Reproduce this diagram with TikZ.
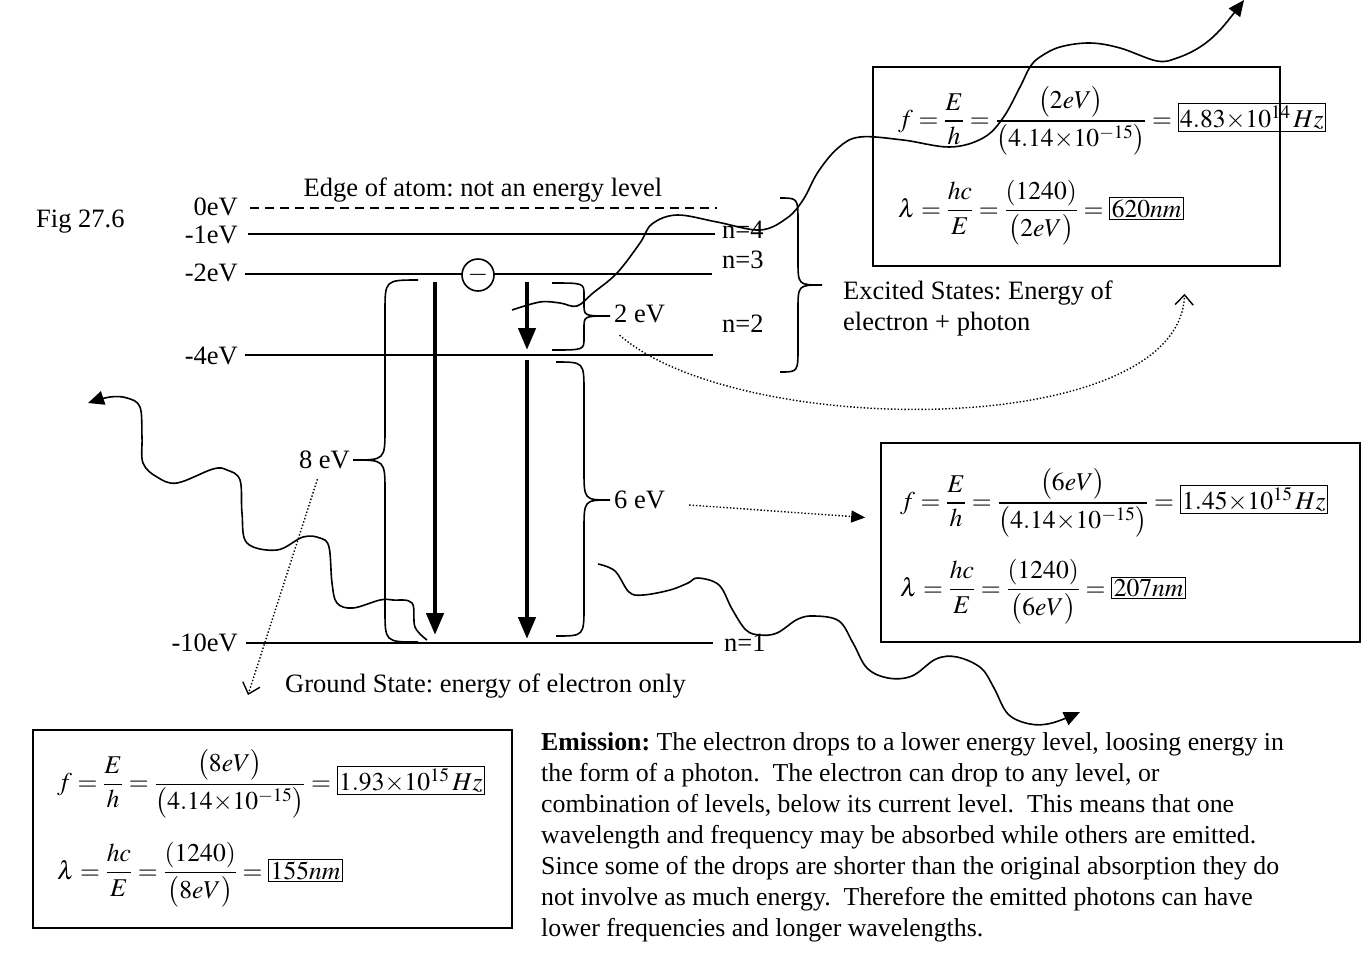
\documentclass[tikz,border=0pt]{standalone}
\usepackage{amsmath}
\usepackage{mathptmx}
\usepackage{fontspec}
\setmainfont{Liberation Serif}
\usetikzlibrary{arrows.meta}
% brace: ends x, spine x, tip x, top y, mid y, bottom y, corner height
\newcommand\levelbrace[7]{%
  \draw[level] (#1,#4) .. controls (#2,#4) .. (#2,#4+#7) -- (#2,#5-#7)
    .. controls (#2,#5) .. (#3,#5) .. controls (#2,#5) .. (#2,#5+#7)
    -- (#2,#6-#7) .. controls (#2,#6) .. (#1,#6);}
\newcommand\tms{\mathord{\times}}
\setlength\fboxsep{1.5pt}
\setlength\fboxrule{1pt}
\frenchspacing
\begin{document}
\begin{tikzpicture}[x=1pt,y=-1pt,
  font=\fontsize{26.5}{31}\selectfont,
  level/.style={line width=1.6pt},
  drop/.style={line width=4.5pt,-{Triangle[length=22pt,width=17pt]}},
  photon/.style={line width=1.6pt,-{Triangle[length=16pt,width=14pt]}},
  guide/.style={dotted,line width=1.4pt},
  lvl/.style={anchor=east,inner sep=0pt},
  qn/.style={anchor=west,inner sep=0pt},
  calcbox/.style={draw,line width=1.6pt,inner sep=0pt},
  calc/.style={anchor=west,inner sep=0pt,font=\fontsize{25.6}{30}\selectfont}]
\useasboundingbox (0,0) rectangle (1368,970);
%
\node[anchor=west,inner sep=0pt] (fig) at (36,222) {Fig 27.6};
\node[lvl] (e0) at (238,207) {0eV};
\node[lvl] (e1) at (238,235) {-1eV};
\node[lvl] (e2) at (238,273) {-2eV};
\node[lvl] (e4) at (238,356) {-4eV};
\node[lvl] (e10) at (238,643) {-10eV};
\draw[level,dash pattern=on 9pt off 6pt] (250,208) -- (717,208);
\draw[level] (248,234) -- (715,234);
\draw[level] (245,274) -- (712,274);
\draw[level] (245,355) -- (713,355);
\draw[level] (246,643) -- (713,643);
\node[inner sep=0pt] (edge) at (483,190) {Edge of atom: not an energy level};
\node[qn] (n4) at (722,230) {n=4};
\node[qn] (n3) at (722,260) {n=3};
\node[qn] (n2) at (722,324) {n=2};
\node[qn] (n1) at (724,643) {n=1};
\node[anchor=west,inner sep=0pt] (gs) at (285,686) {Ground State: energy of electron only};
\node[anchor=west,align=left,inner sep=0pt] (exc) at (843,308)
  {Excited States: Energy of\\electron + photon};
% electron
\node[circle,draw,level,fill=white,minimum size=32pt,inner sep=0pt] (elec) at (478,275) {$-$};
% drops
\draw[drop] (435,282) -- (435,635);
\draw[drop] (527,282) -- (527,350);
\draw[drop] (527,360) -- (527,639);
% braces
\levelbrace{418}{385}{353}{280}{460}{642}{32}
\levelbrace{552}{584}{610}{283}{316}{350}{12}
\levelbrace{556}{584}{610}{362}{500}{636}{30}
\levelbrace{780}{798}{822}{198}{285}{372}{25}
\node[anchor=east,inner sep=0pt] (w8) at (350,460) {8 eV};
\node[anchor=west,inner sep=0pt] (w2) at (614,314) {2 eV};
\node[anchor=west,inner sep=0pt] (w6) at (614,500) {6 eV};
% photons
\draw[photon] plot[smooth,tension=0.6] coordinates {(512,310) (540,302) (560,303)
  (577,306) (593,293) (617,273) (640,243) (652,224) (677,215) (717,222) (760,230)
  (787,218) (803,200) (818,172) (838,148) (860,137) (903,140) (950,147) (983,138)
  (1003,118) (1020,87) (1030,67) (1040,57) (1060,47) (1090,43) (1120,48) (1157,61)
  (1177,58) (1200,47) (1220,30) (1244,0)};
\draw[photon] plot[smooth,tension=0.6] coordinates {(427,640) (415,627) (412,603)
  (393,600) (380,600) (353,608) (337,603) (332,583) (329,547) (320,538) (303,537)
  (277,550) (247,543) (242,513) (240,480) (227,470) (213,469) (177,483) (157,477)
  (143,463) (142,437) (140,407) (127,398) (110,397) (88,403)};
\draw[photon] plot[smooth,tension=0.6] coordinates {(598,564) (615,571) (629,592)
  (643,595) (670,590) (688,583) (698,578) (719,585) (732,609) (746,630) (760,635)
  (777,633) (798,619) (815,616) (839,621) (853,643) (867,668) (888,678) (912,676)
  (936,659) (957,657) (981,668) (994,688) (1008,714) (1030,724) (1052,723) (1080,712)};
% result boxes
\node[calcbox,minimum width=407pt,minimum height=199pt] (box1) at (1076.5,166.5) {};
\node[calc] (f1) at (898,121) {$f=\dfrac{E}{h}=\dfrac{\bigl(2eV\bigr)}{\bigl(4.14\tms10^{-15}\bigr)}=\fbox{$4.83\tms10^{14}\,Hz$}$};
\node[calc] (l1) at (898,213) {$\lambda=\dfrac{hc}{E}=\dfrac{(1240)}{\bigl(2eV\bigr)}=\fbox{$620nm$}$};
\node[calcbox,minimum width=479pt,minimum height=199pt] (box2) at (1120.5,542.5) {};
\node[calc] (f2) at (900,503) {$f=\dfrac{E}{h}=\dfrac{\bigl(6eV\bigr)}{\bigl(4.14\tms10^{-15}\bigr)}=\fbox{$1.45\tms10^{15}\,Hz$}$};
\node[calc] (l2) at (900,592) {$\lambda=\dfrac{hc}{E}=\dfrac{(1240)}{\bigl(6eV\bigr)}=\fbox{$207nm$}$};
\node[calcbox,minimum width=479pt,minimum height=198pt] (box3) at (272.5,829) {};
\node[calc] (f3) at (57,784) {$f=\dfrac{E}{h}=\dfrac{\bigl(8eV\bigr)}{\bigl(4.14\tms10^{-15}\bigr)}=\fbox{$1.93\tms10^{15}\,Hz$}$};
\node[calc] (l3) at (57,875) {$\lambda=\dfrac{hc}{E}=\dfrac{(1240)}{\bigl(8eV\bigr)}=\fbox{$155nm$}$};
% pointers
\draw[guide,-{Straight Barb[length=10pt,width=18pt]}] ([xshift=-20pt,yshift=-12pt]w2.south)
  .. controls (740,440) and (1180,440) .. ([xshift=108pt,yshift=-27pt]box1.south);
\draw[guide,-{Triangle[length=14pt,width=12pt]}] ([xshift=24pt,yshift=-5pt]w6.east)
  -- ([xshift=-15pt,yshift=25pt]box2.west);
\draw[guide,-{Straight Barb[length=10pt,width=18pt]}] ([xshift=-7pt,yshift=-10pt]w8.south)
  -- (248,695);
% emission text
\node[anchor=north west,align=left,inner sep=0pt,font=\fontsize{25.8}{31}\selectfont] (emis) at (541,732)
  {\textbf{Emission:} The electron drops to a lower energy level, loosing energy in\\
  the form of a photon.\ \ The electron can drop to any level, or\\
  combination of levels, below its current level.\ \ This means that one\\
  wavelength and frequency may be absorbed while others are emitted.\\
  Since some of the drops are shorter than the original absorption they do\\
  not involve as much energy.\ \ Therefore the emitted photons can have\\
  lower frequencies and longer wavelengths.};
\end{tikzpicture}
\end{document}
